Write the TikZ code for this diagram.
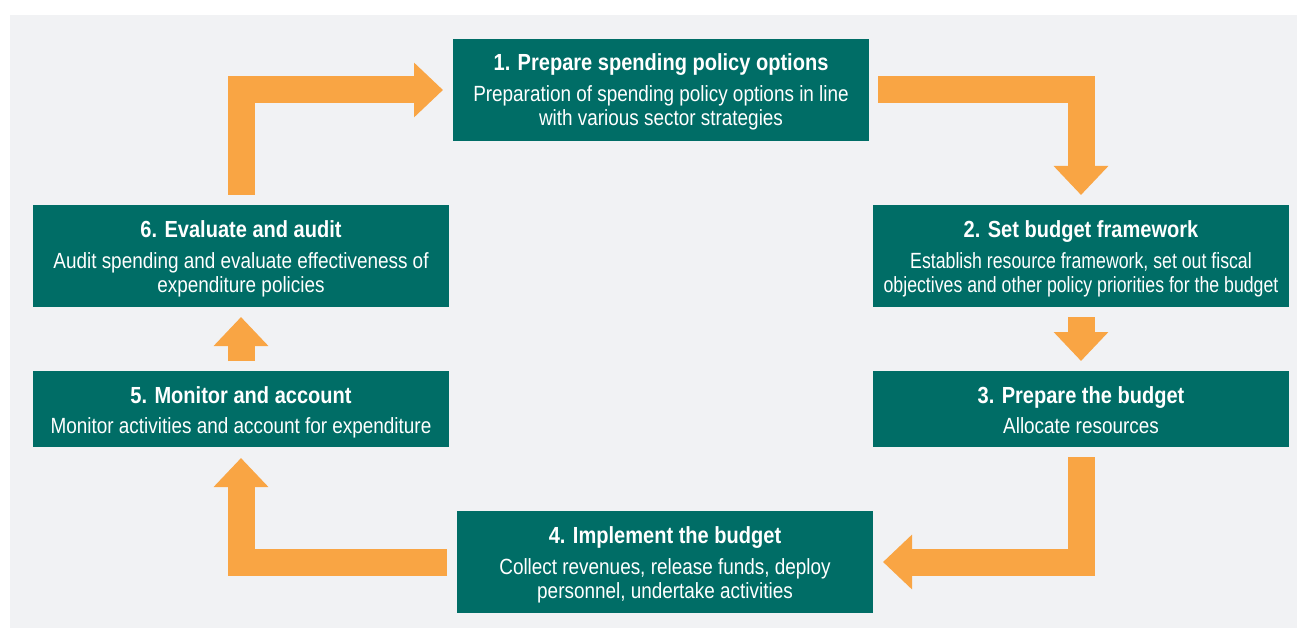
\documentclass[tikz,border=0pt]{standalone}
\usepackage{fontspec}
\setmainfont{Liberation Sans}[FakeStretch=0.86]
\newfontfamily\narrowbody{Liberation Sans}[FakeStretch=0.805]
\usetikzlibrary{arrows.meta}
\definecolor{boxteal}{HTML}{006D66}
\definecolor{flowor}{HTML}{F9A544}
\definecolor{bggrey}{HTML}{F1F2F4}
\begin{document}
\begin{tikzpicture}[x=1pt,y=-1pt,
  stagebox/.style={fill=boxteal, minimum width=416pt, inner sep=0pt, outer sep=0pt},
  tallbox/.style={stagebox, minimum height=102pt},
  shortbox/.style={stagebox, minimum height=76pt},
  ttl/.style={anchor=base, text=white, inner sep=0pt, font=\fontsize{23.3}{24}\selectfont\bfseries},
  bdy/.style={anchor=base, text=white, inner sep=0pt, font=\fontsize{22}{24}\selectfont},
  nbdy/.style={bdy, font=\fontsize{22}{24}\narrowbody},
  flow/.style={draw=flowor, line width=27pt, line join=miter, -{Triangle[width=53pt,length=29pt]}}
]
\useasboundingbox (0,0) rectangle (1297,628);
\fill[bggrey] (10,15) rectangle (1297,628);

% boxes
\node[tallbox]  (s1) at (661,90)  {};
\node[tallbox]  (s2) at (1081,256) {};
\node[shortbox] (s3) at (1081,409) {};
\node[tallbox]  (s4) at (665,562) {};
\node[shortbox] (s5) at (241,409) {};
\node[tallbox]  (s6) at (241,256) {};

% texts
\node[ttl] (s1t) at ([yshift=-32pt]s1.north) {1. Prepare spending policy options};
\node[bdy] (s1a) at ([yshift=-63pt]s1.north) {Preparation of spending policy options in line};
\node[bdy] (s1b) at ([yshift=-87pt]s1.north) {with various sector strategies};

\node[ttl] (s2t) at ([yshift=-32pt]s2.north) {2. Set budget framework};
\node[nbdy] (s2a) at ([yshift=-63pt]s2.north) {Establish resource framework, set out fiscal};
\node[nbdy] (s2b) at ([yshift=-87pt]s2.north) {objectives and other policy priorities for the budget};

\node[ttl] (s3t) at ([yshift=-32pt]s3.north) {3. Prepare the budget};
\node[bdy] (s3a) at ([yshift=-62pt]s3.north) {Allocate resources};

\node[ttl] (s4t) at ([yshift=-32pt]s4.north) {4. Implement the budget};
\node[bdy] (s4a) at ([yshift=-63pt]s4.north) {Collect revenues, release funds, deploy};
\node[bdy] (s4b) at ([yshift=-87pt]s4.north) {personnel, undertake activities};

\node[ttl] (s5t) at ([yshift=-32pt]s5.north) {5. Monitor and account};
\node[bdy] (s5a) at ([yshift=-62pt]s5.north) {Monitor activities and account for expenditure};

\node[ttl] (s6t) at ([yshift=-32pt]s6.north) {6. Evaluate and audit};
\node[bdy] (s6a) at ([yshift=-63pt]s6.north) {Audit spending and evaluate effectiveness of};
\node[bdy] (s6b) at ([yshift=-87pt]s6.north) {expenditure policies};

% flow arrows
\draw[flow] ([yshift=10pt]s6.north) |- ([xshift=-10pt]s1.west);
\draw[flow] ([xshift=9pt]s1.east) -| ([yshift=10pt]s2.north);
\draw[flow] ([yshift=-10pt]s2.south) -- ([yshift=10pt]s3.north);
\draw[flow] ([yshift=-10pt]s3.south) |- ([xshift=10pt]s4.east);
\draw[flow] ([xshift=-10pt]s4.west) -| ([yshift=-11pt]s5.south);
\draw[flow] ([yshift=10pt]s5.north) -- ([yshift=-10pt]s6.south);
\end{tikzpicture}
\end{document}
